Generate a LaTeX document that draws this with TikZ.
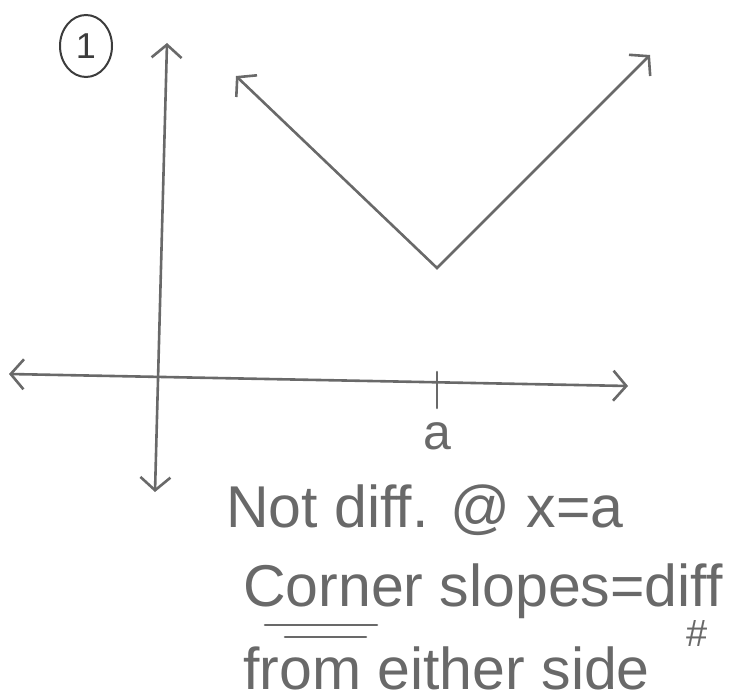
\documentclass[tikz,border=0pt]{standalone}
\usepackage{fontspec}
\setmainfont{Liberation Sans}
\usepackage{tikz}
\usetikzlibrary{arrows.meta, shapes.geometric}
\definecolor{pencil}{RGB}{105,105,105}
\definecolor{ink}{RGB}{60,60,60}

\begin{document}
\begin{tikzpicture}[x=1pt, y=-1pt,
    >={Straight Barb[length=13pt, width=30pt, line width=2.6pt]},
    pen/.style={draw=pencil, line width=2.6pt, line cap=round},
    note/.style={anchor=base west, inner sep=0pt, text=pencil, font=\fontsize{59}{60}\selectfont}]
  \useasboundingbox (0,0) rectangle (754,700);
  \node[ellipse, draw=ink, line width=2pt, text=ink, minimum width=52pt, minimum height=62pt,
        inner sep=0pt, font=\fontsize{36}{36}\selectfont] (num) at (86,46) {1};
  % axes
  \coordinate (xl) at (9,374);
  \coordinate (xr) at (628,386);
  \coordinate (yt) at (167,43);
  \coordinate (yb) at (155,492);
  \draw[pen, <->] (xl) -- (xr);
  \draw[pen, <->] (yt) -- (yb);
  % the V
  \coordinate (vl) at (236,76);
  \coordinate (vtx) at (437,268);
  \coordinate (vr) at (650,55);
  \draw[pen, <->] (vl) -- (vtx) -- (vr);
  % tick at a
  \coordinate (ta) at (437,372);
  \coordinate (tb) at (437,408);
  \draw[pen] (ta) -- (tb);
  \node[text=pencil, font=\fontsize{50}{50}\selectfont] (a) at (437,436) {a};
  % notes
  \node[note] (l1) at (226,527) {Not diff. @ x=a};
  \node[note] (l2) at (243,606) {Corner slopes=diff};
  \node[note] (l3) at (243,689) {from either side};
  \draw[pen] ([shift={(22,19)}]l2.base west) -- ++(112,0);
  \draw[pen] ([shift={(42,31)}]l2.base west) -- ++(81,0);
  \node[text=pencil, font=\fontsize{38}{38}\selectfont] (hash) at (697,633) {\#};
\end{tikzpicture}
\end{document}
